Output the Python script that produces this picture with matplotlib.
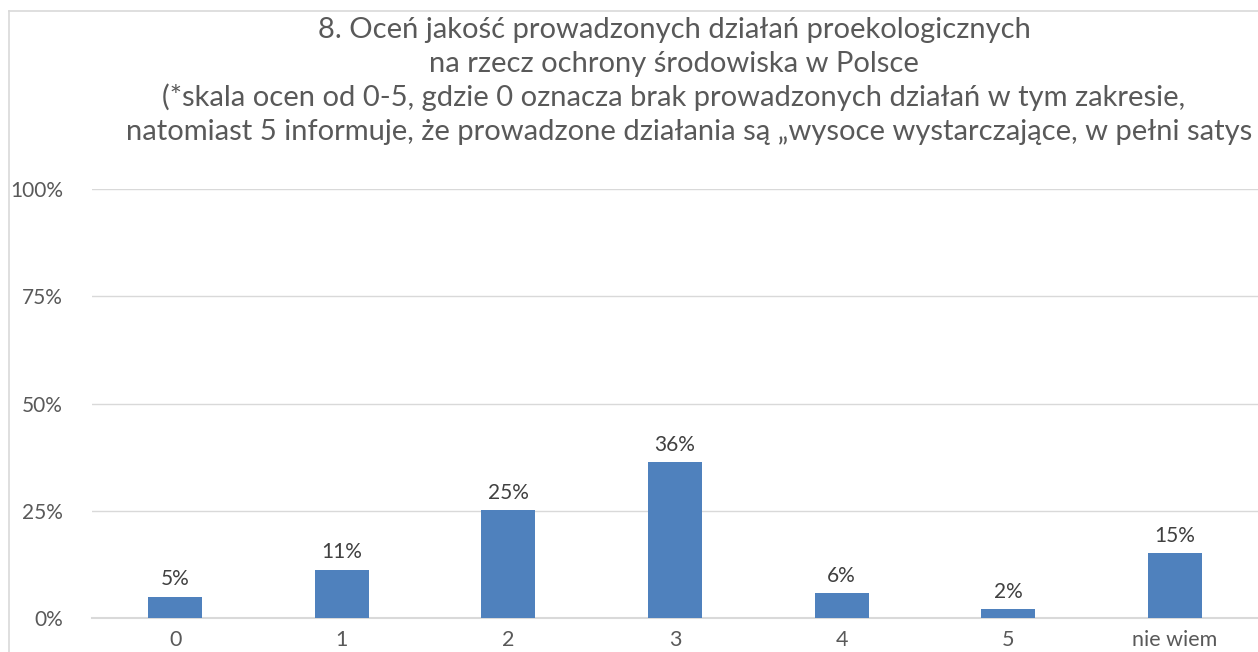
import matplotlib
matplotlib.use("Agg")
import matplotlib.pyplot as plt
from matplotlib.lines import Line2D

categories = ["0", "1", "2", "3", "4", "5", "nie wiem"]
values = [5.0, 11.3, 25.2, 36.4, 5.9, 2.1, 15.2]
y_ticks = [0, 25, 50, 75, 100]
y_tick_labels = ["0%", "25%", "50%", "75%", "100%"]
title_lines = [
    "8. Oceń jakość prowadzonych działań proekologicznych",
    "na rzecz ochrony środowiska w Polsce",
    "(*skala ocen od 0-5, gdzie 0 oznacza brak prowadzonych działań w tym zakresie,",
    "natomiast 5 informuje, że prowadzone działania są „wysoce wystarczające, w pełni satys",
]

FONT = ["Lato", "DejaVu Sans"]
plt.rcParams["font.family"] = FONT

W, H = 1258, 652
fig = plt.figure(figsize=(W / 100, H / 100), dpi=100)
fig.patch.set_facecolor("white")

left, right, top, bottom = 92, 1258, 189, 618
ax = fig.add_axes([left / W, 1 - bottom / H, (right - left) / W, (bottom - top) / H])
ax.set_facecolor("white")

x = list(range(len(categories)))
ax.bar(x, values, width=0.325, color="#4f81bd", zorder=3)
ax.set_xlim(-0.5, len(categories) - 0.5)
ax.set_ylim(0, 100)
ax.set_yticks(y_ticks)
ax.set_yticklabels(y_tick_labels)
ax.set_xticks(x)
ax.set_xticklabels(categories)
ax.yaxis.grid(True, color="#d9d9d9", linewidth=1.0, zorder=0)
ax.set_axisbelow(True)
for s in ["top", "right", "left"]:
    ax.spines[s].set_visible(False)
ax.spines["bottom"].set_color("#d9d9d9")
ax.spines["bottom"].set_linewidth(1.5)
ax.tick_params(axis="y", length=0, labelsize=15, colors="#595959", pad=21)
ax.tick_params(axis="x", length=0, labelsize=15.5, colors="#595959", pad=9)

for xi, v in zip(x, values):
    ax.annotate(f"{v:.0f}%", (xi, v), xytext=(0, 8), textcoords="offset points",
                ha="center", va="baseline", fontsize=15, color="#404040")

fig.add_artist(Line2D([8.5 / W, 8.5 / W], [0, 1 - 10.5 / H], transform=fig.transFigure,
                      color="#d9d9d9", linewidth=1.2))
fig.add_artist(Line2D([8.5 / W, 1], [1 - 10.5 / H, 1 - 10.5 / H], transform=fig.transFigure,
                      color="#d9d9d9", linewidth=1.2))

centers = [674, 674, 674, 689]
baselines = [38, 72, 106, 140]
size = 20
t = fig.text(0, 0, title_lines[0], fontsize=size)
fig.canvas.draw()
w = t.get_window_extent().width
t.remove()
size = size * 712 / w
for line, cx, by in zip(title_lines, centers, baselines):
    fig.text(cx / W, 1 - by / H, line, fontsize=size, color="#595959",
             ha="center", va="baseline")

fig.savefig("out.png", dpi=100, facecolor="white")
